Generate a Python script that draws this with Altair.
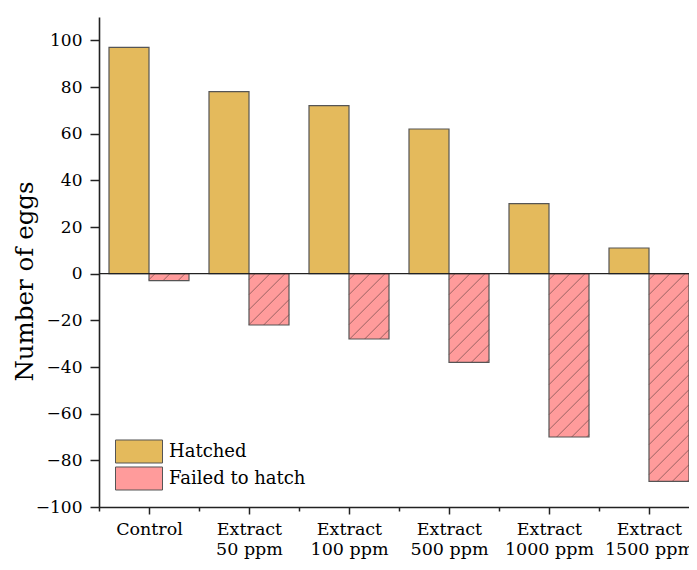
import json
import altair as alt
import pandas as pd

# ---- data ----
categories = ["Control", "Extract\n50 ppm", "Extract\n100 ppm", "Extract\n500 ppm",
              "Extract\n1000 ppm", "Extract\n1500 ppm"]
hatched = [97, 78, 72, 62, 30, 11]
failed = [-3, -22, -28, -38, -70, -89]
series = ["Hatched", "Failed to hatch"]
colors = ["#E4BA5C", "#FF9B9B"]
y_tick_values = list(range(-100, 111, 10))

# ---- layout ----
W, H = 590, 490
STEP_PX = 100.0
X_DOMAIN = [-0.5, -0.5 + W / STEP_PX]
Y_DOMAIN = [-100, 110]
BAR = 0.4
FONT = "DejaVu Serif"

rows = []
for i, c in enumerate(categories):
    rows.append({"cat": c, "series": series[0], "value": hatched[i], "x0": i - BAR, "x1": i})
    rows.append({"cat": c, "series": series[1], "value": failed[i], "x0": i, "x1": i + BAR})
bars_df = pd.DataFrame(rows)

# hatch segments (45 deg lines) inside the "failed" bars, in data units
sx = W / (X_DOMAIN[1] - X_DOMAIN[0])
sy = H / (Y_DOMAIN[1] - Y_DOMAIN[0])
wpx = BAR * sx
segs = []
for i, v in enumerate(failed):
    ytop, ybot = 0.0, v * sy
    k = ytop - 6
    while k > ybot - wpx:
        lo = max(0.0, ybot - k)
        hi = min(wpx, ytop - k)
        if hi > lo:
            segs.append({"x": i + lo / sx, "y": (lo + k) / sy,
                         "x2": i + hi / sx, "y2": (hi + k) / sy})
        k -= 15
hatch_df = pd.DataFrame(segs)

label_lines = [c.split("\n") for c in categories]
x_label_expr = ("datum.value % 1 === 0 && datum.value >= 0 ? "
                + json.dumps(label_lines) + "[datum.value] : ''")
x_vals = [v / 2 for v in range(-1, 11)]

x_scale = alt.Scale(domain=X_DOMAIN, nice=False, zero=False)
y_scale = alt.Scale(domain=Y_DOMAIN, nice=False, zero=False)

x_axis = alt.Axis(
    values=x_vals, title=None, labelExpr=x_label_expr, grid=False,
    labelFlush=False, labelOverlap=False, labelBound=False,
    tickSize={"condition": {"test": "datum.value % 1 === 0", "value": 7}, "value": 4},
    labelPadding=6, labelLineHeight=20, labelFontSize=17.5,
)
y_axis = alt.Axis(
    values=y_tick_values, title="Number of eggs", grid=False,
    labelExpr="datum.value % 20 === 0 ? datum.label : ''",
    tickSize={"condition": {"test": "datum.value % 20 === 0", "value": 9}, "value": 5},
    labelPadding=8, labelFontSize=17, labelOverlap=False, labelFlush=False,
    titleX=-74, titleY=264, titleAlign="center", titleBaseline="middle", titleAngle=270,
    titleFontSize=24.5, titleFontWeight="normal",
)

bars = alt.Chart(bars_df).mark_bar(stroke="#555555", strokeWidth=1.2, opacity=1).encode(
    x=alt.X("x0:Q", scale=x_scale, axis=x_axis),
    x2="x1:Q",
    y=alt.Y("value:Q", scale=y_scale, axis=y_axis),
    y2=alt.datum(0),
    color=alt.Color("series:N", scale=alt.Scale(domain=series, range=colors),
                    legend=alt.Legend(
                        title=None, orient="none", legendX=16, legendY=421,
                        direction="vertical",
                        symbolType="M-1,-0.49H1V0.49H-1Z", symbolSize=2209,
                        symbolStrokeColor="#555555", symbolStrokeWidth=1,
                        symbolOpacity=1, labelFontSize=18, labelColor="black",
                        labelFont=FONT, labelOffset=6, clipHeight=27, rowPadding=0,
                        padding=0)),
)

hatch = alt.Chart(hatch_df).mark_rule(color="#6b4545", strokeWidth=0.8, opacity=0.85).encode(
    x="x:Q", y="y:Q", x2="x2:Q", y2="y2:Q",
)

zero = alt.Chart(pd.DataFrame({"z": [0]})).mark_rule(color="#222222", strokeWidth=1.3).encode(
    y="z:Q",
)

chart = alt.layer(bars, hatch, zero).properties(
    width=W, height=H,
    autosize=alt.AutoSizeParams(type="none"),
    padding={"left": 91, "top": 9, "right": 0, "bottom": 52},
    background="white",
).configure_view(stroke=None).configure_axis(
    labelFont=FONT, titleFont=FONT, labelColor="black", titleColor="black",
    domainColor="#222222", tickColor="#222222", domainWidth=1.6, tickWidth=1.5,
)

chart.save("out.html", embed_options={"renderer": "svg", "actions": False})
